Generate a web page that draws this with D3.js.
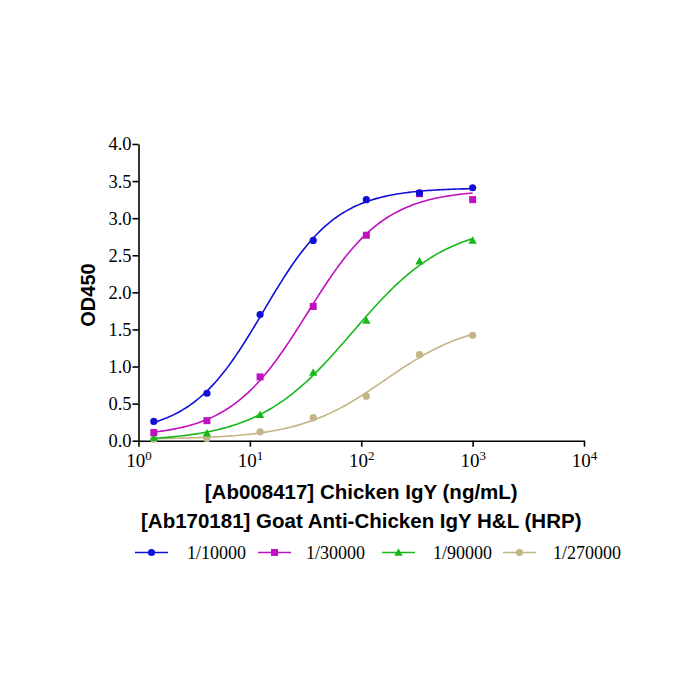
<!DOCTYPE html>
<html>
<head>
<meta charset="utf-8">
<script src="https://cdn.jsdelivr.net/npm/d3@7"></script>
<style>
  body { margin: 0; background: #fff; }
</style>
</head>
<body>
<div id="chart"></div>
<script>
// concentrations (ng/mL), 3-fold dilution series
const conc = [1.372, 4.115, 12.35, 37.04, 111.1, 333.3, 1000]

const series = ['1/10000', '1/30000', '1/90000', '1/270000']
const od10000 = [0.26, 0.64, 1.70, 2.70, 3.25, 3.34, 3.41]
const od30000 = [0.11, 0.27, 0.86, 1.81, 2.77, 3.33, 3.25]
const od90000 = [0.04, 0.10, 0.35, 0.92, 1.62, 2.42, 2.70]
const od270000 = [0.02, 0.03, 0.12, 0.31, 0.60, 1.16, 1.42]
const colors = ['#1010d8', '#c010c0', '#18b818', '#c4b486']
const shapes = ['circle', 'square', 'triangle', 'circle']

const yTicks = [0, 0.5, 1, 1.5, 2, 2.5, 3, 3.5, 4]
const xTicks = [1, 10, 100, 1000, 10000]

const allValues = [od10000, od30000, od90000, od270000]

const W = 700, H = 700
const margin = { left: 138.5, top: 144, right: 116, bottom: 259.3 }
const width = W - margin.left - margin.right
const height = H - margin.top - margin.bottom

const serif = '"Liberation Serif", "Times New Roman", serif'
const sans = '"Liberation Sans", Arial, sans-serif'

// 4-parameter logistic fit (nelder-mead), like the original curve fit
function fit4pl (xs, ys) {
  const f = (p, xv) => p[3] + (p[0] - p[3]) / (1 + Math.pow(xv / Math.exp(p[2]), p[1]))
  const loss = p => d3.sum(xs, (xv, i) => (f(p, xv) - ys[i]) ** 2)
  let simplex = [[d3.min(ys), 1, Math.log(d3.median(xs)), d3.max(ys)]]
  const steps = [0.1, 0.3, 1, 0.3]
  for (let k = 0; k < 4; k++) {
    const p = simplex[0].slice()
    p[k] += steps[k]
    simplex.push(p)
  }
  let vals = simplex.map(loss)
  for (let it = 0; it < 4000; it++) {
    const order = d3.range(5).sort((a, b) => vals[a] - vals[b])
    simplex = order.map(i => simplex[i])
    vals = order.map(i => vals[i])
    const c = [0, 1, 2, 3].map(k => d3.mean(simplex.slice(0, 4), p => p[k]))
    const worst = simplex[4]
    const xr = c.map((v, k) => v + (v - worst[k]))
    const fr = loss(xr)
    if (fr < vals[0]) {
      const xe = c.map((v, k) => v + 2 * (v - worst[k]))
      const fe = loss(xe)
      if (fe < fr) { simplex[4] = xe; vals[4] = fe } else { simplex[4] = xr; vals[4] = fr }
    } else if (fr < vals[3]) {
      simplex[4] = xr; vals[4] = fr
    } else {
      const xc = c.map((v, k) => v + 0.5 * (worst[k] - v))
      const fc = loss(xc)
      if (fc < vals[4]) {
        simplex[4] = xc; vals[4] = fc
      } else {
        for (let i = 1; i < 5; i++) {
          simplex[i] = simplex[i].map((v, k) => simplex[0][k] + 0.5 * (v - simplex[0][k]))
          vals[i] = loss(simplex[i])
        }
      }
    }
  }
  const best = simplex[d3.minIndex(vals)]
  return xv => f(best, xv)
}

const svg = d3.select('#chart').append('svg')
  .attr('width', W)
  .attr('height', H)

const g = svg.append('g')
  .attr('transform', `translate(${margin.left}, ${margin.top})`)

const x = d3.scaleLog().domain([1, 10000]).range([0, width])
const y = d3.scaleLinear().domain([0, 4]).range([height, 0])

// y axis
const yAxis = g.append('g')
  .call(d3.axisLeft(y).tickValues(yTicks).tickFormat(d3.format('.1f')).tickSize(6).tickSizeOuter(0))
yAxis.select('.domain').attr('stroke', '#000').attr('stroke-width', 1.6)
yAxis.selectAll('.tick line').attr('stroke', '#000').attr('stroke-width', 1.6)
yAxis.selectAll('.tick text')
  .attr('font-family', serif)
  .attr('font-size', 18.5)
  .attr('fill', '#000')
  .attr('x', -7)

// x axis
const xAxis = g.append('g')
  .attr('transform', `translate(0, ${height})`)
  .call(d3.axisBottom(x).tickValues(xTicks).tickFormat('').tickSize(6).tickSizeOuter(0))
xAxis.select('.domain').attr('stroke', '#000').attr('stroke-width', 1.6)
xAxis.selectAll('.tick line').attr('stroke', '#000').attr('stroke-width', 1.6)
xAxis.selectAll('.tick').each(function (d) {
  const t = d3.select(this).append('text')
    .attr('y', 26)
    .attr('text-anchor', 'middle')
    .attr('font-family', serif)
    .attr('font-size', 19)
    .attr('fill', '#000')
  t.append('tspan').text('10')
  t.append('tspan').attr('dy', -7).attr('font-size', 13).text(Math.round(Math.log10(d)))
})

// axis titles
svg.append('text')
  .attr('transform', `translate(95, 295) rotate(-90)`)
  .attr('text-anchor', 'middle')
  .attr('font-family', sans)
  .attr('font-weight', 'bold')
  .attr('font-size', 20)
  .text('OD450')

svg.append('text')
  .attr('x', margin.left + width / 2)
  .attr('y', 499)
  .attr('text-anchor', 'middle')
  .attr('font-family', sans)
  .attr('font-weight', 'bold')
  .attr('font-size', 20.5)
  .text('[Ab008417] Chicken IgY (ng/mL)')

svg.append('text')
  .attr('x', margin.left + width / 2)
  .attr('y', 528)
  .attr('text-anchor', 'middle')
  .attr('font-family', sans)
  .attr('font-weight', 'bold')
  .attr('font-size', 20.5)
  .text('[Ab170181] Goat Anti-Chicken IgY H&L (HRP)')

function marker (sel, shape, color) {
  if (shape === 'circle') {
    sel.append('circle').attr('r', 3.6).attr('fill', color)
  } else if (shape === 'square') {
    sel.append('rect').attr('x', -3.5).attr('y', -3.5).attr('width', 7).attr('height', 7).attr('fill', color)
  } else {
    sel.append('path').attr('d', 'M0,-4.3L4.2,3.2L-4.2,3.2Z').attr('fill', color)
  }
}

const line = d3.line()
  .x(d => x(d[0]))
  .y(d => y(d[1]))

const lo = Math.log10(conc[0]), hi = Math.log10(conc[conc.length - 1])

// draw last series first so the 1/10000 curve sits on top
d3.range(allValues.length).reverse().forEach(i => {
  const vals = allValues[i]
  const fit = fit4pl(conc, vals)
  const curve = d3.range(0, 121).map(k => {
    const c = Math.pow(10, lo + (hi - lo) * k / 120)
    return [c, fit(c)]
  })
  g.append('path')
    .attr('d', line(curve))
    .attr('fill', 'none')
    .attr('stroke', colors[i])
    .attr('stroke-width', 1.6)
  conc.forEach((c, j) => {
    const m = g.append('g').attr('transform', `translate(${x(c)}, ${y(vals[j])})`)
    marker(m, shapes[i], colors[i])
  })
})

// legend
const legendX = [135, 258, 382, 503]
const legendTextX = [187, 306, 433, 553]
const legendY = 552.5
series.forEach((s, i) => {
  const lg = svg.append('g').attr('transform', `translate(${legendX[i]}, ${legendY})`)
  lg.append('line')
    .attr('x1', 0).attr('x2', 33)
    .attr('stroke', colors[i]).attr('stroke-width', 1.6)
  const m = lg.append('g').attr('transform', 'translate(16.5, 0)')
  marker(m, shapes[i], colors[i])
  svg.append('text')
    .attr('x', legendTextX[i])
    .attr('y', 559)
    .attr('font-family', serif)
    .attr('font-size', 18)
    .attr('fill', '#000')
    .text(s)
})
</script>
</body>
</html>
